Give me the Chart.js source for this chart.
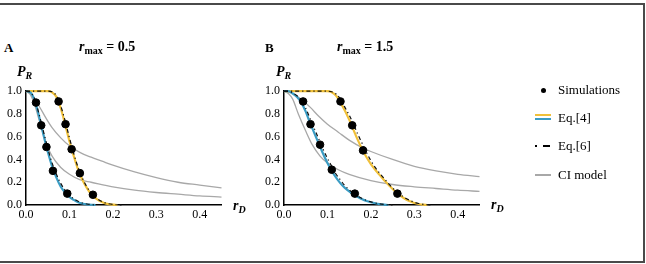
<!DOCTYPE html>
<html>
<head>
<meta charset="utf-8">
<script src="https://cdn.jsdelivr.net/npm/chart.js"></script>
<style>
  body { margin: 0; background: #fff; width: 646px; height: 264px; overflow: hidden; position: relative;
         font-family: 'Liberation Serif', 'Times New Roman', serif; color: #000; }
  .frame { position: absolute; left: -3px; top: 3px; width: 644px; height: 256px;
           border: 2px solid #4a4a4a; }
  .box { position: absolute; }
  .lbl { position: absolute; font-weight: bold; font-size: 13px; line-height: 16px; white-space: nowrap; }
  .lbl sub { font-size: 10px; vertical-align: -3px; line-height: 0; }
  .leg { position: absolute; font-size: 13px; line-height: 16px; white-space: nowrap; }
  .sw { position: absolute; height: 2px; }
</style>
</head>
<body>
<div class="frame"></div>

<div class="box" style="left:0;top:80px;width:240px;height:145px"><canvas id="chartA"></canvas></div>
<div class="box" style="left:258px;top:80px;width:240px;height:145px"><canvas id="chartB"></canvas></div>

<!-- panel titles -->
<div class="lbl" style="left:4px;top:40px">A</div>
<div class="lbl" style="left:79px;top:39px;font-size:14px"><i>r</i><sub>max</sub> = 0.5</div>
<div class="lbl" style="left:265px;top:40px">B</div>
<div class="lbl" style="left:337px;top:39px;font-size:14px"><i>r</i><sub>max</sub> = 1.5</div>

<!-- axis titles -->
<div class="lbl" style="left:17px;top:64px;font-size:14px"><i>P</i><sub><i>R</i></sub></div>
<div class="lbl" style="left:276px;top:64px;font-size:14px"><i>P</i><sub><i>R</i></sub></div>
<div class="lbl" style="left:233px;top:198px;font-size:14px"><i>r</i><sub><i>D</i></sub></div>
<div class="lbl" style="left:491px;top:197px;font-size:14px"><i>r</i><sub><i>D</i></sub></div>

<!-- legend -->
<div style="position:absolute;left:541px;top:88px;width:5px;height:5px;border-radius:50%;background:#000"></div>
<div class="leg" style="left:558px;top:82px">Simulations</div>
<div class="sw" style="left:535px;top:114px;width:16px;background:#f0c03a"></div>
<div class="sw" style="left:535px;top:118px;width:16px;background:#3a9cc4"></div>
<div class="leg" style="left:558px;top:110px">Eq.[4]</div>
<div class="sw" style="left:535px;top:145px;width:2px;background:#000"></div>
<div class="sw" style="left:543px;top:145px;width:7px;background:#000"></div>
<div class="leg" style="left:558px;top:138px">Eq.[6]</div>
<div class="sw" style="left:535px;top:174px;width:16px;height:1.5px;background:#a8a8a8"></div>
<div class="leg" style="left:558px;top:167px">CI model</div>

<script>
// tick labels
const xTicks = [0, 0.1, 0.2, 0.3, 0.4];
const yTicks = [0, 0.2, 0.4, 0.6, 0.8, 1.0];

// ---- panel A : r_max = 0.5 ----
const aSimX = [0.023, 0.035, 0.047, 0.062, 0.095, 0.075, 0.091, 0.105, 0.124, 0.154];
const aSimY = [0.90, 0.70, 0.51, 0.30, 0.10, 0.91, 0.71, 0.49, 0.28, 0.09];

const aBlueX = [0, 0.01, 0.02, 0.03, 0.04, 0.05, 0.06, 0.07, 0.08, 0.09, 0.10, 0.11, 0.12, 0.13, 0.14, 0.15, 0.16];
const aBlueY = [1.0, 0.99, 0.92, 0.78, 0.62, 0.47, 0.34, 0.24, 0.16, 0.11, 0.07, 0.045, 0.025, 0.013, 0.006, 0.002, 0];
const aBlue6X = [0, 0.01, 0.02, 0.03, 0.04, 0.05, 0.06, 0.07, 0.08, 0.09, 0.10, 0.11, 0.12, 0.13, 0.14, 0.15, 0.16];
const aBlue6Y = [1.0, 0.99, 0.93, 0.80, 0.65, 0.50, 0.37, 0.27, 0.19, 0.13, 0.085, 0.055, 0.033, 0.018, 0.009, 0.004, 0];

const aYelX = [0, 0.05, 0.06, 0.07, 0.08, 0.09, 0.10, 0.11, 0.12, 0.13, 0.14, 0.15, 0.16, 0.17, 0.18, 0.19, 0.20, 0.21];
const aYelY = [1.0, 1.0, 0.99, 0.95, 0.85, 0.71, 0.56, 0.43, 0.31, 0.22, 0.15, 0.095, 0.06, 0.035, 0.018, 0.008, 0.003, 0];
const aYel6X = [0, 0.05, 0.06, 0.07, 0.08, 0.09, 0.10, 0.11, 0.12, 0.13, 0.14, 0.15, 0.16, 0.17, 0.18, 0.19, 0.20, 0.21, 0.22];
const aYel6Y = [1.0, 1.0, 0.995, 0.96, 0.87, 0.74, 0.59, 0.45, 0.33, 0.235, 0.16, 0.105, 0.066, 0.04, 0.022, 0.011, 0.005, 0.002, 0];

const aCiHiX = [0, 0.01, 0.02, 0.03, 0.045, 0.06, 0.08, 0.10, 0.125, 0.15, 0.175, 0.20, 0.25, 0.30, 0.35, 0.40, 0.45];
const aCiHiY = [1.0, 0.98, 0.93, 0.87, 0.77, 0.68, 0.59, 0.52, 0.46, 0.42, 0.385, 0.35, 0.29, 0.24, 0.20, 0.175, 0.15];
const aCiLoX = [0, 0.01, 0.02, 0.03, 0.04, 0.05, 0.06, 0.08, 0.10, 0.125, 0.15, 0.20, 0.25, 0.30, 0.35, 0.40, 0.45];
const aCiLoY = [1.0, 0.97, 0.88, 0.75, 0.62, 0.51, 0.43, 0.33, 0.27, 0.22, 0.20, 0.16, 0.13, 0.11, 0.095, 0.08, 0.07];

// ---- panel B : r_max = 1.5 ----
const bSimX = [0.044, 0.061, 0.083, 0.110, 0.163, 0.130, 0.157, 0.182, 0.261];
const bSimY = [0.91, 0.71, 0.53, 0.31, 0.10, 0.91, 0.70, 0.48, 0.10];

const bBlueX = [0, 0.01, 0.02, 0.03, 0.04, 0.05, 0.06, 0.07, 0.08, 0.09, 0.10, 0.11, 0.12, 0.13, 0.14, 0.15, 0.16, 0.17, 0.18, 0.19, 0.20, 0.21, 0.22, 0.23, 0.24];
const bBlueY = [1.0, 1.0, 0.98, 0.95, 0.90, 0.82, 0.72, 0.63, 0.54, 0.45, 0.37, 0.30, 0.24, 0.19, 0.15, 0.12, 0.09, 0.07, 0.05, 0.035, 0.024, 0.015, 0.008, 0.004, 0];
const bBlue6X = [0, 0.01, 0.02, 0.03, 0.04, 0.05, 0.06, 0.07, 0.08, 0.09, 0.10, 0.11, 0.12, 0.13, 0.14, 0.15, 0.16, 0.17, 0.18, 0.19, 0.20, 0.21, 0.22, 0.23, 0.24, 0.25];
const bBlue6Y = [1.0, 1.0, 0.985, 0.96, 0.92, 0.85, 0.76, 0.67, 0.58, 0.49, 0.41, 0.34, 0.27, 0.22, 0.17, 0.135, 0.10, 0.078, 0.057, 0.04, 0.028, 0.018, 0.01, 0.005, 0.002, 0];

const bYelX = [0, 0.10, 0.11, 0.12, 0.13, 0.14, 0.15, 0.16, 0.17, 0.18, 0.19, 0.20, 0.21, 0.22, 0.23, 0.24, 0.25, 0.26, 0.27, 0.28, 0.29, 0.30, 0.31, 0.32, 0.33];
const bYelY = [1.0, 1.0, 0.99, 0.96, 0.90, 0.83, 0.75, 0.66, 0.57, 0.49, 0.42, 0.36, 0.31, 0.265, 0.22, 0.18, 0.14, 0.105, 0.075, 0.05, 0.032, 0.018, 0.009, 0.003, 0];
const bYel6X = [0, 0.10, 0.11, 0.12, 0.13, 0.14, 0.15, 0.16, 0.17, 0.18, 0.19, 0.20, 0.21, 0.22, 0.23, 0.24, 0.25, 0.26, 0.27, 0.28, 0.29, 0.30, 0.31, 0.32, 0.33, 0.34];
const bYel6Y = [1.0, 1.0, 0.995, 0.975, 0.93, 0.86, 0.79, 0.71, 0.62, 0.54, 0.46, 0.39, 0.33, 0.28, 0.235, 0.19, 0.15, 0.115, 0.085, 0.06, 0.04, 0.024, 0.013, 0.006, 0.002, 0];

const bCiHiX = [0, 0.02, 0.04, 0.06, 0.08, 0.10, 0.125, 0.15, 0.182, 0.20, 0.25, 0.30, 0.35, 0.40, 0.45];
const bCiHiY = [1.0, 0.98, 0.93, 0.86, 0.78, 0.71, 0.64, 0.57, 0.50, 0.47, 0.40, 0.34, 0.30, 0.27, 0.25];
const bCiLoX = [0, 0.01, 0.02, 0.033, 0.05, 0.065, 0.083, 0.10, 0.125, 0.15, 0.20, 0.25, 0.30, 0.35, 0.40, 0.45];
const bCiLoY = [1.0, 0.98, 0.93, 0.80, 0.65, 0.53, 0.43, 0.37, 0.31, 0.27, 0.215, 0.18, 0.16, 0.145, 0.13, 0.12];

const YELLOW = '#f0c03a';
const BLUE = '#3a9cc4';
const GRAY = '#a8a8a8';

Chart.defaults.font.family = "'Liberation Serif', 'Times New Roman', serif";
Chart.defaults.font.size = 12;
Chart.defaults.color = '#000';

function pts(xs, ys) {
    return xs.map((x, i) => ({ x: x, y: ys[i] }));
}

function curve(xs, ys, color, width, dash) {
    return {
        type: 'line',
        data: pts(xs, ys),
        borderColor: color,
        borderWidth: width,
        borderDash: dash || [],
        pointRadius: 0,
        fill: false,
        cubicInterpolationMode: 'monotone'
    };
}

function makePanel(id, p) {
    const ctx = document.getElementById(id).getContext('2d');
    const dashDot = [4, 3, 1.2, 3];
    return new Chart(ctx, {
        type: 'scatter',
        data: {
            datasets: [
                // first in list = drawn on top
                { type: 'scatter', data: pts(p.simX, p.simY), backgroundColor: '#000', borderColor: '#000',
                  pointRadius: 3.8, pointHoverRadius: 3.8 },
                curve(p.blue6X, p.blue6Y, '#111', 1.2, dashDot),
                curve(p.yel6X, p.yel6Y, '#111', 1.2, dashDot),
                curve(p.blueX, p.blueY, BLUE, 2.2),
                curve(p.yelX, p.yelY, YELLOW, 2.2),
                curve(p.ciHiX, p.ciHiY, GRAY, 1.3),
                curve(p.ciLoX, p.ciLoY, GRAY, 1.3)
            ]
        },
        options: {
            responsive: true,
            maintainAspectRatio: false,
            animation: false,
            events: [],
            clip: false,
            layout: { padding: { left: 0, right: 18.5, top: 10, bottom: 0 } },
            plugins: { legend: { display: false }, tooltip: { enabled: false } },
            scales: {
                x: {
                    type: 'linear', min: 0, max: 0.45,
                    grid: { display: false, drawTicks: false },
                    border: { display: true, color: '#000', width: 1.5 },
                    ticks: { padding: 3, callback: v => v.toFixed(1) },
                    afterBuildTicks: s => { s.ticks = xTicks.map(v => ({ value: v })); },
                    afterFit: s => { s.height = 20; }
                },
                y: {
                    type: 'linear', min: 0, max: 1.0,
                    grid: { display: false, drawTicks: false },
                    border: { display: true, color: '#000', width: 1.5 },
                    ticks: { padding: 4, callback: v => v.toFixed(1) },
                    afterBuildTicks: s => { s.ticks = yTicks.map(v => ({ value: v })); },
                    afterFit: s => { s.width = 26; }
                }
            }
        }
    });
}

makePanel('chartA', {
    simX: aSimX, simY: aSimY,
    blueX: aBlueX, blueY: aBlueY, blue6X: aBlue6X, blue6Y: aBlue6Y,
    yelX: aYelX, yelY: aYelY, yel6X: aYel6X, yel6Y: aYel6Y,
    ciHiX: aCiHiX, ciHiY: aCiHiY, ciLoX: aCiLoX, ciLoY: aCiLoY
});
makePanel('chartB', {
    simX: bSimX, simY: bSimY,
    blueX: bBlueX, blueY: bBlueY, blue6X: bBlue6X, blue6Y: bBlue6Y,
    yelX: bYelX, yelY: bYelY, yel6X: bYel6X, yel6Y: bYel6Y,
    ciHiX: bCiHiX, ciHiY: bCiHiY, ciLoX: bCiLoX, ciLoY: bCiLoY
});
</script>
</body>
</html>
